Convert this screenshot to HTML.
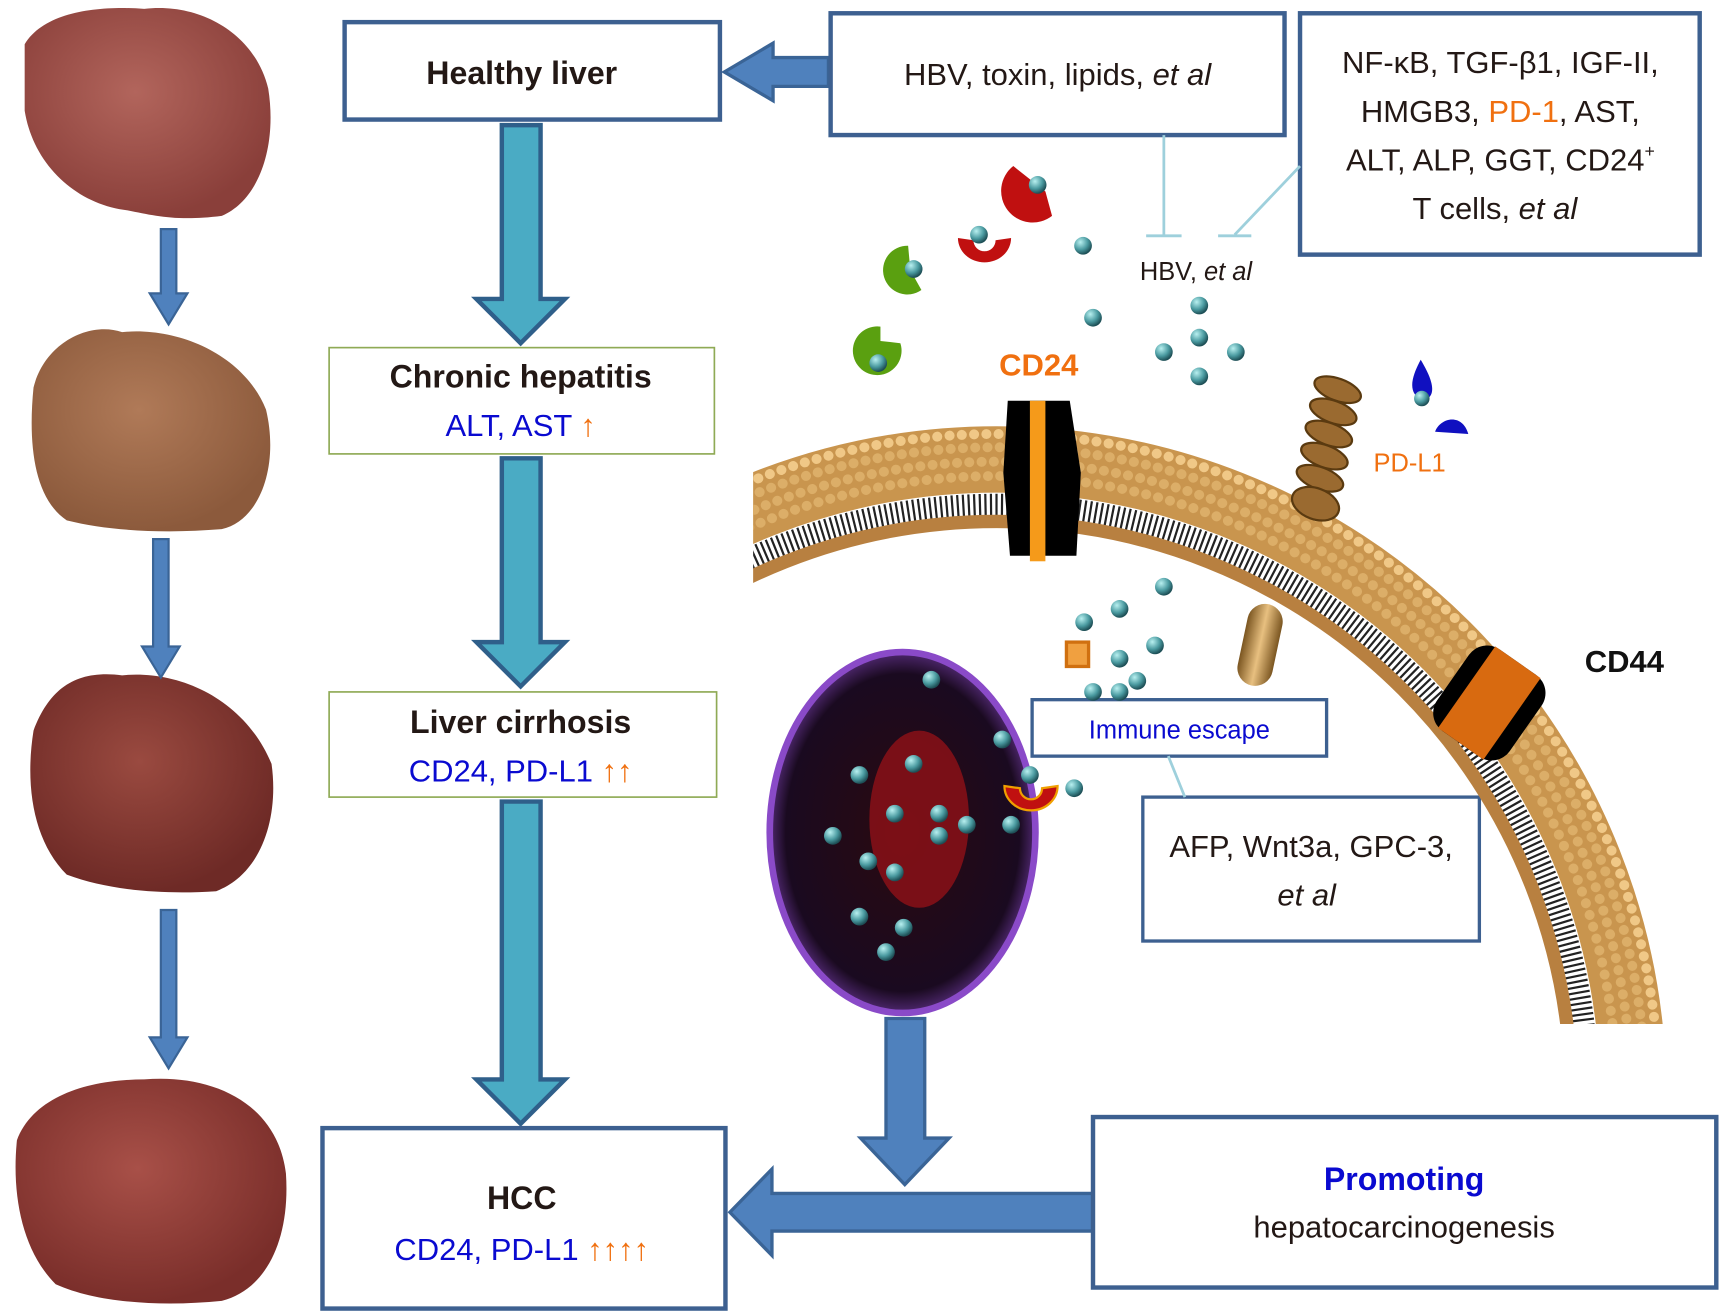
<!DOCTYPE html>
<html><head><meta charset="utf-8"><style>
html,body{margin:0;padding:0;background:#fff;width:1731px;height:1313px;overflow:hidden;}
svg{display:block;}
text{font-family:"Liberation Sans","DejaVu Sans",sans-serif;}
</style></head><body>
<svg width="1731" height="1313" viewBox="0 0 1563 1186" xmlns="http://www.w3.org/2000/svg">
<defs>
<radialGradient id="liv1" cx="45%" cy="40%" r="60%"><stop offset="0" stop-color="#b2655c"/><stop offset="1" stop-color="#8a3f3a"/></radialGradient>
<radialGradient id="liv2" cx="45%" cy="40%" r="60%"><stop offset="0" stop-color="#b07a58"/><stop offset="1" stop-color="#8c5a3c"/></radialGradient>
<radialGradient id="liv3" cx="45%" cy="40%" r="60%"><stop offset="0" stop-color="#9a4a40"/><stop offset="1" stop-color="#6e2a26"/></radialGradient>
<radialGradient id="liv4" cx="45%" cy="40%" r="60%"><stop offset="0" stop-color="#a85048"/><stop offset="1" stop-color="#7a2e2a"/></radialGradient>
<radialGradient id="dot" cx="35%" cy="30%" r="70%"><stop offset="0" stop-color="#b8f0f0"/><stop offset="0.6" stop-color="#4a9aa0"/><stop offset="1" stop-color="#1d4e55"/></radialGradient>
<radialGradient id="cell" cx="50%" cy="50%" r="55%"><stop offset="0" stop-color="#2a0a10"/><stop offset="0.8" stop-color="#1a0a20"/><stop offset="1" stop-color="#7a40b0"/></radialGradient>
<linearGradient id="tan" x1="0" x2="1"><stop offset="0" stop-color="#7a5520"/><stop offset="0.5" stop-color="#e8c080"/><stop offset="1" stop-color="#7a5520"/></linearGradient>
<clipPath id="memclip"><rect x="680" y="300" width="830" height="625"/></clipPath>
</defs>

<path d="M22,40 C40,10 90,5 130,8 C180,2 230,30 242,80 C250,130 235,180 200,195 C160,200 140,195 115,190 C70,185 30,150 22,100 Z" fill="url(#liv1)"/>
<path d="M30,350 C40,310 80,290 110,300 C160,295 220,320 240,370 C252,420 235,470 200,478 C150,482 100,480 60,470 C30,450 25,400 30,350 Z" fill="url(#liv2)"/>
<path d="M30,660 C45,620 70,605 110,610 C160,605 220,630 245,690 C252,740 235,790 195,805 C150,808 100,805 60,790 C30,760 22,710 30,660 Z" fill="url(#liv3)"/>
<path d="M15,1030 C30,990 80,975 130,975 C190,970 250,995 258,1060 C262,1120 240,1165 200,1175 C150,1180 90,1178 50,1160 C20,1130 10,1080 15,1030 Z" fill="url(#liv4)"/>

<g fill="#4f81bd" stroke="#3a6496" stroke-width="2">
<path d="M145,207 h14 v58 h10 l-17,28 l-17,-28 h10 z"/>
<path d="M138,487 h14 v97 h10 l-17,28 l-17,-28 h10 z"/>
<path d="M145,822 h14 v115 h10 l-17,28 l-17,-28 h10 z"/>
</g>

<g fill="#4aabc4" stroke="#2f5f8a" stroke-width="4">
<path d="M453,113 h35 v157 h22 l-40,40 l-40,-40 h23 z"/>
<path d="M453,414 h35 v166 h22 l-40,40 l-40,-40 h23 z"/>
<path d="M453,724 h35 v251 h22 l-40,40 l-40,-40 h23 z"/>
</g>

<g fill="#4f81bd" stroke="#3a6496" stroke-width="3">
<path d="M748,52 h-50 v-13 l-44,26 l44,26 v-13 h50 z"/>
<path d="M800,920 h35 v108 h22 l-40,42 l-40,-42 h23 z"/>
<path d="M987,1078 h-290 v-22 l-38,39 l38,39 v-22 h290 z"/>
</g>

<g fill="#fff" stroke="#3d6090" stroke-width="4">
<rect x="311" y="20" width="339" height="88"/>
<rect x="750" y="12" width="410" height="110"/>
<rect x="1174" y="12" width="361" height="218"/>
<rect x="291" y="1019" width="364" height="163"/>
<rect x="987" y="1009" width="563" height="154"/>
<rect x="932" y="632" width="266" height="51" stroke-width="3"/>
<rect x="1032" y="720" width="304" height="130" stroke-width="3"/>
</g>
<g fill="#fff" stroke="#8faa55" stroke-width="1.5">
<rect x="297" y="314" width="348" height="96"/>
<rect x="297" y="625" width="350" height="95"/>
</g>

<g stroke="#9ed0dc" stroke-width="2.5" fill="none">
<path d="M1051,122 V213 M1035,213 H1067"/>
<path d="M1174,150 L1115,212 M1100,213 H1130"/>
<path d="M1055,683 L1070,720"/>
</g>

<g clip-path="url(#memclip)" fill="none">
<circle cx="900" cy="990" r="575" stroke="#c9954e" stroke-width="60"/>
<circle cx="900" cy="990" r="598" stroke="#f0c887" stroke-width="9" stroke-dasharray="0.1 11" stroke-linecap="round"/>
<circle cx="900" cy="990" r="586" stroke="#dcae68" stroke-width="9" stroke-dasharray="0.1 11" stroke-linecap="round"/>
<circle cx="900" cy="990" r="573" stroke="#dcae68" stroke-width="9" stroke-dasharray="0.1 11" stroke-linecap="round"/>
<circle cx="900" cy="990" r="560" stroke="#dcae68" stroke-width="9" stroke-dasharray="0.1 11" stroke-linecap="round"/>
<circle cx="900" cy="990" r="534" stroke="#222" stroke-width="20" stroke-dasharray="2 3"/>
<circle cx="900" cy="990" r="519" stroke="#b88040" stroke-width="12"/>
</g>

<path d="M910,362 h56 l10,65 l-4,75 h-60 l-6,-75 z" fill="#000"/>
<rect x="930" y="362" width="14" height="145" fill="#f59a1a"/>
<g fill="#9a6a30" stroke="#5a3a10" stroke-width="2">
<ellipse cx="1208" cy="352" rx="22" ry="10" transform="rotate(20 1208 352)"/>
<ellipse cx="1204" cy="372" rx="22" ry="10" transform="rotate(20 1204 372)"/>
<ellipse cx="1200" cy="392" rx="22" ry="10" transform="rotate(20 1200 392)"/>
<ellipse cx="1196" cy="412" rx="22" ry="10" transform="rotate(20 1196 412)"/>
<ellipse cx="1192" cy="432" rx="22" ry="10" transform="rotate(20 1192 432)"/>
<ellipse cx="1188" cy="455" rx="22" ry="14" transform="rotate(20 1188 455)"/>
</g>
<rect x="1122" y="545" width="32" height="75" rx="16" fill="url(#tan)" transform="rotate(12 1138 582)"/>
<g transform="rotate(35 1345 635)">
<rect x="1305" y="590" width="80" height="90" rx="20" fill="#000"/>
<rect x="1320" y="590" width="50" height="90" fill="#d86a10"/>
</g>
<path d="M1283,325 C1275,340 1270,355 1285,362 C1300,358 1292,340 1283,325 Z" fill="#1010c0"/>
<path d="M1296,390 C1300,378 1320,372 1326,392 Z" fill="#1010c0"/>

<ellipse cx="815" cy="752" rx="120" ry="163" fill="url(#cell)" stroke="#8a4ac8" stroke-width="6"/>
<ellipse cx="830" cy="740" rx="45" ry="80" fill="#8a1018" opacity="0.85"/>

<path d="M820,222 a22,22 0 1 0 12,40 l-10,-18 z" fill="#5aa010"/>
<path d="M795,295 a22,22 0 1 0 18,15 l-18,-2 z" fill="#5aa010"/>
<path d="M865,215 a24,22 0 0 0 48,0 l-14,2 a10,10 0 0 1 -20,0 z" fill="#c01010"/>
<path d="M915,150 a24,24 0 0 0 35,45 l-6,-22 z" fill="#c01010"/>
<path d="M907,710 a24,22 0 0 0 48,0 l-14,2 a10,10 0 0 1 -20,0 z" fill="#c01010" stroke="#f0a000" stroke-width="2"/>
<rect x="963" y="580" width="20" height="22" fill="#f0a040" stroke="#d07010" stroke-width="3"/>

<g fill="url(#dot)">
<circle cx="937" cy="167" r="8"/><circle cx="884" cy="212" r="8"/><circle cx="978" cy="222" r="8"/><circle cx="825" cy="243" r="8"/><circle cx="793" cy="328" r="8"/><circle cx="987" cy="287" r="8"/>
<circle cx="1083" cy="276" r="8"/><circle cx="1083" cy="305" r="8"/><circle cx="1051" cy="318" r="8"/><circle cx="1116" cy="318" r="8"/><circle cx="1083" cy="340" r="8"/>
<circle cx="1284" cy="360" r="7"/>
<circle cx="1051" cy="530" r="8"/><circle cx="1011" cy="550" r="8"/><circle cx="979" cy="562" r="8"/><circle cx="1043" cy="583" r="8"/><circle cx="1011" cy="595" r="8"/><circle cx="1027" cy="615" r="8"/><circle cx="987" cy="625" r="8"/><circle cx="1011" cy="625" r="8"/>
<circle cx="841" cy="614" r="8"/><circle cx="905" cy="668" r="8"/><circle cx="930" cy="700" r="8"/><circle cx="970" cy="712" r="8"/><circle cx="776" cy="700" r="8"/><circle cx="825" cy="690" r="8"/><circle cx="808" cy="735" r="8"/><circle cx="848" cy="735" r="8"/><circle cx="873" cy="745" r="8"/><circle cx="913" cy="745" r="8"/><circle cx="752" cy="755" r="8"/><circle cx="784" cy="778" r="8"/><circle cx="808" cy="788" r="8"/><circle cx="848" cy="755" r="8"/><circle cx="776" cy="828" r="8"/><circle cx="816" cy="838" r="8"/><circle cx="800" cy="860" r="8"/>
</g>

<g text-anchor="middle">
<text x="471" y="76" font-size="29" font-weight="bold" fill="#231815">Healthy liver</text>
<text x="470" y="350" font-size="29" font-weight="bold" fill="#231815">Chronic hepatitis</text>
<text x="470" y="394" font-size="28" fill="#0a0ad0">ALT, AST <tspan fill="#f07010">↑</tspan></text>
<text x="470" y="662" font-size="29" font-weight="bold" fill="#231815">Liver cirrhosis</text>
<text x="470" y="706" font-size="28" fill="#0a0ad0">CD24, PD-L1 <tspan fill="#f07010">↑↑</tspan></text>
<text x="471" y="1092" font-size="29" font-weight="bold" fill="#231815">HCC</text>
<text x="471" y="1138" font-size="28" fill="#0a0ad0">CD24, PD-L1 <tspan fill="#f07010">↑↑↑↑</tspan></text>
<text x="955" y="77" font-size="28" fill="#231815">HBV, toxin, lipids, <tspan font-style="italic">et al</tspan></text>
<text x="1355" y="66" font-size="28" fill="#231815">NF-κB, TGF-β1, IGF-II,</text>
<text x="1355" y="110" font-size="28" fill="#231815">HMGB3, <tspan fill="#f07010">PD-1</tspan>, AST,</text>
<text x="1355" y="154" font-size="28" fill="#231815">ALT, ALP, GGT, CD24<tspan font-size="16" dy="-12">+</tspan></text>
<text x="1350" y="198" font-size="28" fill="#231815">T cells, <tspan font-style="italic">et al</tspan></text>
<text x="1080" y="253" font-size="23" fill="#231815">HBV, <tspan font-style="italic">et al</tspan></text>
<text x="938" y="339" font-size="28" font-weight="bold" fill="#f07010">CD24</text>
<text x="1273" y="426" font-size="23" fill="#f07010">PD-L1</text>
<text x="1467" y="607" font-size="28" font-weight="bold" fill="#111">CD44</text>
<text x="1065" y="667" font-size="23" fill="#0a0ad0">Immune escape</text>
<text x="1184" y="774" font-size="28" fill="#231815">AFP, Wnt3a, GPC-3,</text>
<text x="1180" y="818" font-size="28" font-style="italic" fill="#231815">et al</text>
<text x="1268" y="1075" font-size="29" font-weight="bold" fill="#0a0ad0">Promoting</text>
<text x="1268" y="1118" font-size="28" fill="#231815">hepatocarcinogenesis</text>
</g>
</svg>
</body></html>
